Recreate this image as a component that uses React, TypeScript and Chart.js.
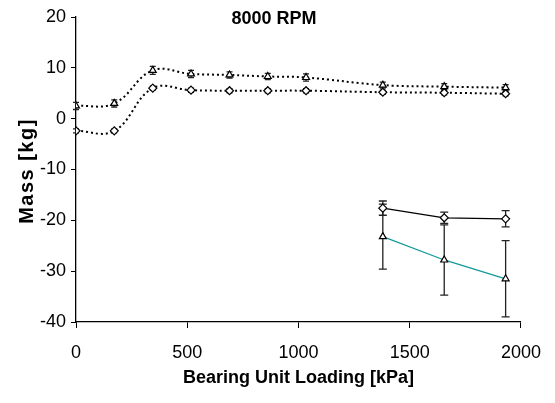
import React, { useEffect, useRef } from "react";
import { Chart, registerables } from "chart.js";

Chart.register(...registerables);

const loads = [0, 172, 345, 517, 690, 862, 1034, 1379, 1655, 1931];
const upperTri = [2.5, 3.0, 9.5, 8.8, 8.6, 8.3, 8.1, 6.6, 6.3, 6.1];
const upperTriErr = [0.7, 0.7, 0.8, 0.7, 0.6, 0.6, 0.7, 0.6, 0.6, 0.6];
const upperDia = [-2.4, -2.4, 6.0, 5.6, 5.5, 5.5, 5.5, 5.2, 5.1, 4.9];
const upperDiaErr = [0.4, 0.4, 0.4, 0.4, 0.4, 0.4, 0.4, 0.4, 0.4, 0.4];

const lowLoads = [1379, 1655, 1931];
const lowDia = [-17.6, -19.5, -19.7];
const lowDiaErr = [1.4, 1.1, 1.6];
const lowTri = [-23.2, -27.8, -31.5];
const lowTriErr = [6.4, 6.9, 7.5];

const xTicks = [0, 500, 1000, 1500, 2000];
const yTicks = [-40, -30, -20, -10, 0, 10, 20];

const chartTitle = "8000 RPM";
const xTitle = "Bearing Unit Loading [kPa]";
const yTitle = "Mass [kg]";

const TEAL = "#14999a";

const toPts = (xs: number[], ys: number[]) => xs.map((x, i) => ({ x, y: ys[i] }));

const errorBarPlugin = {
  id: "errorBars",
  beforeDatasetsDraw(chart: any) {
    const ctx = chart.ctx;
    const xs = chart.scales.x;
    const ys = chart.scales.y;
    chart.data.datasets.forEach((ds: any) => {
      if (!ds.errors) return;
      ctx.save();
      ctx.strokeStyle = ds.errorColor || "#222";
      ctx.lineWidth = ds.errorWidth || 1.3;
      const cap = ds.capHalf || 4;
      ds.data.forEach((p: any, i: number) => {
        const e = ds.errors[i];
        const px = xs.getPixelForValue(p.x);
        const top = ys.getPixelForValue(p.y + e);
        const bot = ys.getPixelForValue(p.y - e);
        ctx.beginPath();
        ctx.moveTo(px, top);
        ctx.lineTo(px, bot);
        ctx.moveTo(px - cap, top);
        ctx.lineTo(px + cap, top);
        ctx.moveTo(px - cap, bot);
        ctx.lineTo(px + cap, bot);
        ctx.stroke();
      });
      ctx.restore();
    });
  },
};

const textPlugin = {
  id: "texts",
  afterDraw(chart: any) {
    const ctx = chart.ctx;
    ctx.save();
    ctx.fillStyle = "#000";
    ctx.textAlign = "center";
    ctx.textBaseline = "middle";
    ctx.font = "bold 18px 'Liberation Sans', Arial, sans-serif";
    ctx.fillText(chartTitle, 274, 19);
    ctx.translate(27, 171);
    ctx.rotate(-Math.PI / 2);
    ctx.font = "bold 20px 'Liberation Sans', Arial, sans-serif";
    try { (ctx as any).letterSpacing = "1.5px"; } catch (e) {}
    ctx.fillText(yTitle, 0, 0);
    ctx.restore();
  },
};

export default function App() {
  const ref = useRef<HTMLCanvasElement | null>(null);
  useEffect(() => {
    if (!ref.current) return;
    const font = { family: "'Liberation Sans', Arial, sans-serif", size: 18 };
    const chart = new Chart(ref.current, {
      type: "scatter",
      data: {
        datasets: [
          {
            data: toPts(loads, upperTri),
            errors: upperTriErr,
            capHalf: 3,
            showLine: true,
            borderColor: "#000",
            borderWidth: 2,
            borderDash: [2, 3],
            tension: 0.4,
            pointStyle: "triangle",
            pointRadius: 4,
            pointBackgroundColor: "#fff",
            pointBorderColor: "#000",
            pointBorderWidth: 1.2,
          } as any,
          {
            data: toPts(loads, upperDia),
            errors: upperDiaErr,
            capHalf: 3,
            showLine: true,
            borderColor: "#000",
            borderWidth: 2,
            borderDash: [2, 3],
            tension: 0.4,
            pointStyle: "rectRot",
            pointRadius: 4,
            pointBackgroundColor: "#fff",
            pointBorderColor: "#000",
            pointBorderWidth: 1.2,
          } as any,
          {
            data: toPts(lowLoads, lowDia),
            errors: lowDiaErr,
            capHalf: 4,
            showLine: true,
            borderColor: "#000",
            borderWidth: 1.3,
            tension: 0,
            pointStyle: "rectRot",
            pointRadius: 4,
            pointBackgroundColor: "#fff",
            pointBorderColor: "#000",
            pointBorderWidth: 1.2,
          } as any,
          {
            data: toPts(lowLoads, lowTri),
            errors: lowTriErr,
            capHalf: 4,
            showLine: true,
            borderColor: TEAL,
            borderWidth: 1.3,
            tension: 0,
            pointStyle: "triangle",
            pointRadius: 4,
            pointBackgroundColor: "#fff",
            pointBorderColor: "#000",
            pointBorderWidth: 1.2,
          } as any,
        ],
      },
      options: {
        responsive: false,
        animation: false,
        layout: { padding: { top: 17, right: 33, bottom: 0, left: 0 } },
        plugins: { legend: { display: false }, tooltip: { enabled: false }, title: { display: false } },
        scales: {
          x: {
            type: "linear",
            min: 0,
            max: 2000,
            afterBuildTicks: (s: any) => { s.ticks = xTicks.map((v) => ({ value: v })); },
            afterFit: (s: any) => { s.height = 81; },
            grid: { drawOnChartArea: false, drawTicks: true, tickLength: 6, color: "#000", tickColor: "#000" },
            border: { display: true, color: "#000", width: 1.3 },
            ticks: { color: "#000", font, padding: 14, maxRotation: 0, callback: (v: any) => String(v) },
            title: {
              display: true,
              text: xTitle,
              color: "#000",
              font: { family: "'Liberation Sans', Arial, sans-serif", size: 18, weight: "bold" },
              padding: { top: 0, bottom: 14 },
            },
          },
          y: {
            type: "linear",
            min: -40,
            max: 20,
            afterBuildTicks: (s: any) => { s.ticks = yTicks.map((v) => ({ value: v })); },
            afterFit: (s: any) => { s.width = 76; },
            grid: { drawOnChartArea: false, drawTicks: true, tickLength: 5, color: "#000", tickColor: "#000" },
            border: { display: true, color: "#000", width: 1.3 },
            ticks: { color: "#000", font, padding: 5, callback: (v: any) => String(v) },
          },
        },
      } as any,
      plugins: [errorBarPlugin, textPlugin],
    });
    return () => chart.destroy();
  }, []);
  return (
    <div style={{ position: "fixed", left: 0, top: 0, width: 555, height: 403, background: "#fff" }}>
      <canvas ref={ref} width={555} height={403} />
    </div>
  );
}
